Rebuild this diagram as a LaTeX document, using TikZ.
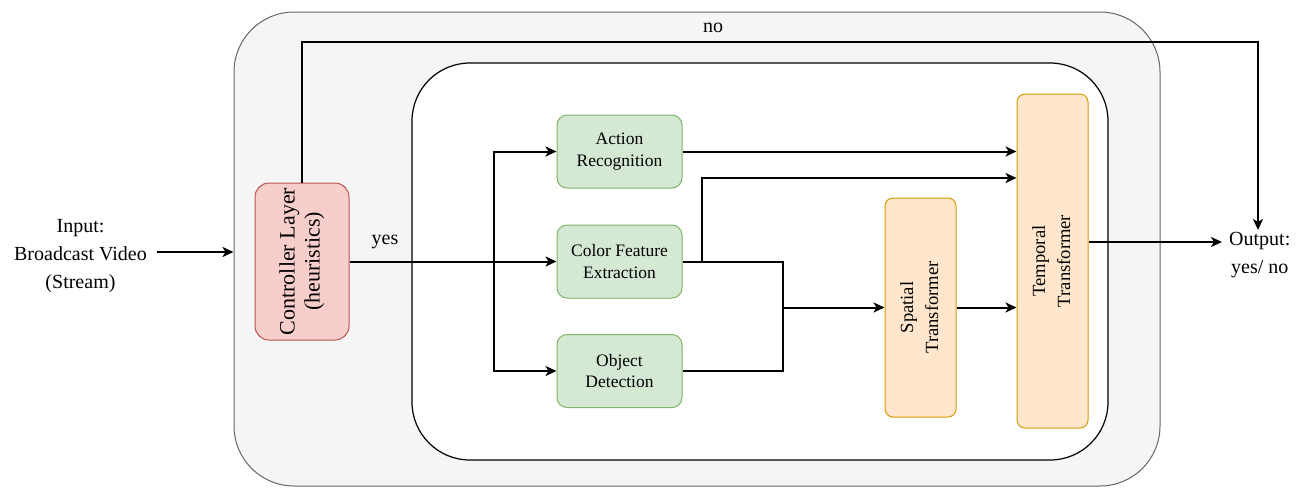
\documentclass[tikz,border=0pt]{standalone}
\usepackage{fontspec}
\setmainfont{Liberation Serif}
\usetikzlibrary{arrows.meta}
\definecolor{outerfill}{HTML}{F5F5F5}
\definecolor{outerline}{HTML}{666666}
\definecolor{redfill}{HTML}{F8CECC}
\definecolor{redline}{HTML}{B85450}
\definecolor{greenfill}{HTML}{D5E8D4}
\definecolor{greenline}{HTML}{82B366}
\definecolor{orangefill}{HTML}{FFE6CC}
\definecolor{orangeline}{HTML}{D79B00}
\tikzset{
  outerbox/.style={draw=outerline, fill=outerfill, line width=1pt, rounded corners=60pt, inner sep=0pt},
  innerbox/.style={draw=black, fill=white, line width=1.2pt, rounded corners=58pt, inner sep=0pt},
  ctrlbox/.style={draw=redline, fill=redfill, line width=1pt, rounded corners=14pt, inner sep=0pt,
    font=\fontsize{22}{25}\selectfont},
  greenbox/.style={draw=greenline, fill=greenfill, line width=1pt, rounded corners=10pt, inner sep=0pt,
    minimum width=125pt, minimum height=73pt, align=center, font=\fontsize{17.5}{21.7}\selectfont},
  orangebox/.style={draw=orangeline, fill=orangefill, line width=1pt, rounded corners=8pt, inner sep=0pt,
    minimum width=71pt, font=\fontsize{18.6}{25}\selectfont},
  plain/.style={align=center, inner sep=0pt, font=\fontsize{20}{26.5}\selectfont},
  arr/.style={line width=2pt, -{Stealth[length=11pt,width=10pt,inset=3pt]}},
  ln/.style={line width=2pt},
}
\begin{document}
\begin{tikzpicture}[x=1pt,y=-1pt]
\useasboundingbox (0,0) rectangle (1308,488);
% containers
\node[outerbox, minimum width=926pt, minimum height=474pt] (outer) at (697,249) {};
\node[innerbox, minimum width=696pt, minimum height=397pt] (inner) at (760,261.5) {};
% controller
\node[ctrlbox, minimum width=94pt, minimum height=157pt] (ctrl) at (302,261.5)
  {\rotatebox{90}{\begin{tabular}{@{}c@{}}Controller Layer\\(heuristics)\end{tabular}}};
% green boxes
\node[greenbox] (action) at (619.5,151.5) {Action\\Recognition};
\node[greenbox] (color) at (619.5,261.5) {Color Feature\\Extraction};
\node[greenbox] (object) at (619.5,371) {Object\\Detection};
% orange boxes
\node[orangebox, minimum height=219pt] (spatial) at (920.5,307.5)
  {\rotatebox{90}{\begin{tabular}{@{}c@{}}Spatial\\Transformer\end{tabular}}};
\node[orangebox, minimum height=334pt] (temporal) at (1052.5,261)
  {\rotatebox{90}{\begin{tabular}{@{}c@{}}Temporal\\Transformer\end{tabular}}};
% texts
\node[plain, anchor=east] (input) at (147,256) {Input:\\[1.5pt]Broadcast Video\\[1.5pt](Stream)};
\node[plain, anchor=north west] (output) at (1229,232) {Output:\\[1.5pt]yes/ no};
\node[plain] (nolabel) at (713,28) {no};
\node[plain] (yeslabel) at (385,242) {yes};
% helper coordinates
\coordinate (instart) at (157,252);
\coordinate (notop) at (1258,42);
\coordinate (notip) at (1258,230);
\coordinate (outin) at (1222,242);
\coordinate (split) at (494,262);
\coordinate (c2) at (702,178);
\coordinate (c3) at (783,307.5);
% connectors
\draw[arr] (instart) -- (instart -| outer.west);
\draw[arr] (ctrl.north) |- (notop) -- (notip);
\draw[arr] (ctrl.east) -- (color.west);
\draw[arr] (split) |- (action.west);
\draw[arr] (split) |- (object.west);
\draw[arr] (action.east) -- (action.east -| temporal.west);
\draw[arr] (color.east -| c2) -- (c2) -- (c2 -| temporal.west);
\draw[ln] (color.east) -- (c3 |- color.east) -- (c3 |- object.east) -- (object.east);
\draw[arr] (c3) -- (spatial.west);
\draw[arr] (spatial.east) -- (spatial.east -| temporal.west);
\draw[arr] (temporal.east |- outin) -- (outin);
\end{tikzpicture}
\end{document}
